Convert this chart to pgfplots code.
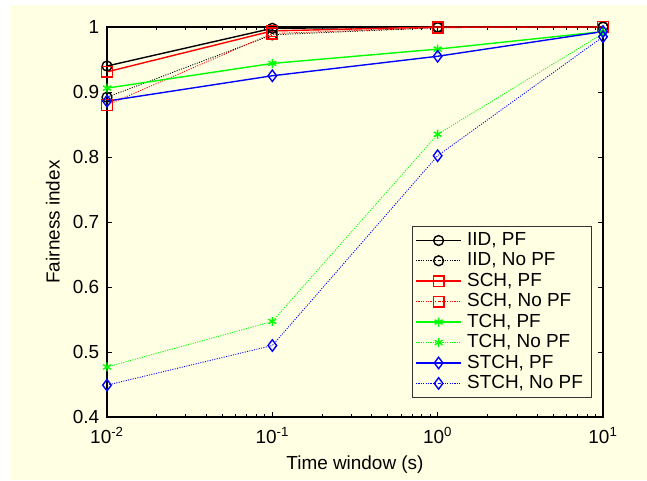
\documentclass[border=0pt]{standalone}
\usepackage{fontspec}
\setmainfont{Liberation Sans}
\usepackage{pgfplots}
\pgfplotsset{compat=1.18}
\definecolor{cream}{RGB}{255,255,228}
\begin{document}
\fontsize{14.2pt}{17pt}\selectfont
\begin{tikzpicture}
\fill[white] (0,0) rectangle (485.25pt,360pt);
\fill[cream] (7.5pt,0) rectangle (485.25pt,356.25pt);
\begin{axis}[
  at={(80.25pt,47.25pt)}, anchor=south west,
  scale only axis, width=372pt, height=292.5pt,
  xmode=log, xmin=0.01, xmax=10, ymin=0.4, ymax=1,
  xtick={0.01,0.1,1,10},
  xticklabels={10\textsuperscript{-2},10\textsuperscript{-1},10\textsuperscript{0},10\textsuperscript{1}},
  ytick={0.4,0.5,0.6,0.7,0.8,0.9,1},
  yticklabels={0.4,0.5,0.6,0.7,0.8,0.9,1},
  xticklabel style={yshift=-3pt},
  yticklabel style={xshift=-1pt},
  tick align=inside, major tick length=3.75pt, minor tick length=2.2pt,
  tick style={black, line width=0.6pt},
  axis line style={line width=1pt},
  axis background/.style={fill=cream},
  xlabel={Time window (s)}, ylabel={Fairness index},
  xlabel style={yshift=1pt}, ylabel style={yshift=0pt},
  clip=false,
  legend cell align=left,
  legend style={at={(0.978,0.0487)}, anchor=south east, fill=cream, draw=black!80, line width=0.8pt,
    font=\fontsize{14.2pt}{17pt}\selectfont, row sep=-0.7pt, inner sep=2.5pt,
    nodes={inner xsep=4pt}},
  legend image code/.code={\draw[mark repeat=2,mark phase=2] plot coordinates {(0pt,0pt) (16.9pt,0pt) (33.8pt,0pt)};},
  every axis plot/.append style={line width=1.05pt},
]
\addplot[black, mark=o, mark size=3.7pt, mark options={solid}] coordinates {(0.01,0.940) (0.1,0.998) (1,1.000) (10,1.000)};
\addlegendentry{IID, PF}
\addplot[black, line width=0.65pt, dash pattern=on 0.8pt off 1pt, mark=o, mark size=3.7pt, mark options={solid, line width=1.05pt}] coordinates {(0.01,0.892) (0.1,0.988) (1,0.999) (10,1.000)};
\addlegendentry{IID, No PF}
\addplot[red, mark=square, mark size=4pt, mark options={solid}] coordinates {(0.01,0.931) (0.1,0.994) (1,1.000) (10,1.000)};
\addlegendentry{SCH, PF}
\addplot[red, line width=0.65pt, dash pattern=on 0.8pt off 1pt, mark=square, mark size=4pt, mark options={solid, line width=1.05pt}] coordinates {(0.01,0.880) (0.1,0.990) (1,0.999) (10,1.000)};
\addlegendentry{SCH, No PF}
\addplot[green, mark=asterisk, mark size=3.4pt, mark options={solid}] coordinates {(0.01,0.906) (0.1,0.944) (1,0.966) (10,0.993)};
\addlegendentry{TCH, PF}
\addplot[green, line width=0.65pt, dash pattern=on 0.8pt off 1pt, mark=asterisk, mark size=3.4pt, mark options={solid, line width=1.05pt}] coordinates {(0.01,0.477) (0.1,0.547) (1,0.835) (10,0.990)};
\addlegendentry{TCH, No PF}
\addplot[blue, mark=diamond, mark size=4.3pt, mark options={solid}] coordinates {(0.01,0.886) (0.1,0.925) (1,0.955) (10,0.993)};
\addlegendentry{STCH, PF}
\addplot[blue, line width=0.65pt, dash pattern=on 0.8pt off 1pt, mark=diamond, mark size=4.3pt, mark options={solid, line width=1.05pt}] coordinates {(0.01,0.449) (0.1,0.510) (1,0.802) (10,0.985)};
\addlegendentry{STCH, No PF}
\end{axis}
\end{tikzpicture}
\end{document}
